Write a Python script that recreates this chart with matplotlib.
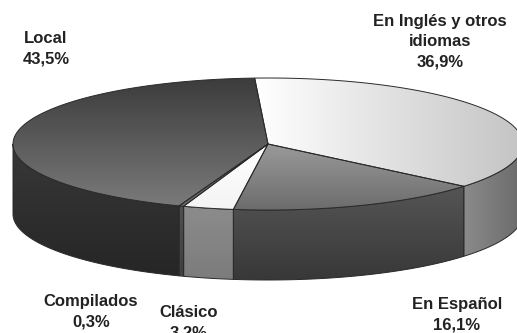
import numpy as np
import matplotlib
matplotlib.use("Agg")
import matplotlib.pyplot as plt
from matplotlib.patches import Polygon
from matplotlib.colors import LinearSegmentedColormap

# Data
labels = ["Local", "Compilados", "Clásico", "En Español", "En Inglés y otros\nidiomas"]
shares = [43.5, 0.3, 3.2, 16.1, 36.9]

# Pie geometry (pixel space of the figure)
CX, CY = 268, 144
RX, RY = 255, 66
DEPTH = 70
START = 93.0  # degrees, slices run counter-clockwise

# Shading per slice: (top_from, top_to, top_dir, side_from, side_to, side_dir)
SHADES = [
    ("#3c3c3c", "#7a7a7a", "v", "#383838", "#262626", "v"),
    ("#6a6a6a", "#6a6a6a", "v", "#505050", "#404040", "v"),
    ("#ffffff", "#f4f4f4", "v", "#8c8c8c", "#7c7c7c", "v"),
    ("#9a9a9a", "#6c6c6c", "v", "#555555", "#383838", "v"),
    ("#ffffff", "#c4c4c4", "h", "#8a8a8a", "#6a6a6a", "h"),
]

LABEL_POS = [(46, 49), (91, 312), (189, 323), (457, 315), (440, 42)]


def pt(theta, dy=0.0):
    t = np.radians(theta)
    return CX + RX * np.cos(t), CY - RY * np.sin(t) + dy


def shade(ax, verts, c0, c1, direction, z):
    poly = Polygon(verts, closed=True, facecolor="none", edgecolor="#2a2a2a",
                   lw=0.7, zorder=z + 0.5)
    ax.add_patch(poly)
    xmin, xmax = verts[:, 0].min(), verts[:, 0].max()
    ymin, ymax = verts[:, 1].min(), verts[:, 1].max()
    g = np.linspace(0, 1, 200)
    img = g[:, None] if direction == "v" else g[None, :]
    cmap = LinearSegmentedColormap.from_list("s", [c0, c1])
    im = ax.imshow(img, cmap=cmap, vmin=0, vmax=1, extent=(xmin, xmax, ymax, ymin),
                   origin="upper", aspect="auto", interpolation="bilinear", zorder=z)
    im.set_clip_path(poly)


fig = plt.figure(figsize=(5.17, 3.33), dpi=100)
ax = fig.add_axes([0, 0, 1, 1])

bounds = START + np.concatenate([[0], np.cumsum(shares)]) * 3.6

# Sides (front half only)
for i, (a0, a1) in enumerate(zip(bounds[:-1], bounds[1:])):
    s0, s1 = max(a0, 180), min(a1, 360)
    if s1 <= s0:
        continue
    th = np.linspace(s0, s1, 80)
    top = np.array([pt(t) for t in th])
    bot = np.array([pt(t, DEPTH) for t in th[::-1]])
    _, _, _, c0, c1, d = SHADES[i]
    shade(ax, np.vstack([top, bot]), c0, c1, d, 1)

# Top faces
for i, (a0, a1) in enumerate(zip(bounds[:-1], bounds[1:])):
    th = np.linspace(a0, a1, max(int(a1 - a0) * 2, 4))
    arc = np.array([pt(t) for t in th])
    verts = np.vstack([[CX, CY], arc])
    c0, c1, d = SHADES[i][:3]
    shade(ax, verts, c0, c1, d, 3)

# Labels
for lab, v, (x, y) in zip(labels, shares, LABEL_POS):
    txt = f"{lab}\n{v:.1f}%".replace(".", ",")
    ax.text(x, y, txt, ha="center", va="center", fontsize=12, fontweight="bold",
            family="Liberation Sans", color="#222222", linespacing=1.42, zorder=5)

ax.set_xlim(0, 517)
ax.set_ylim(333, 0)
ax.axis("off")
fig.savefig("out.png", dpi=100, facecolor="white")
